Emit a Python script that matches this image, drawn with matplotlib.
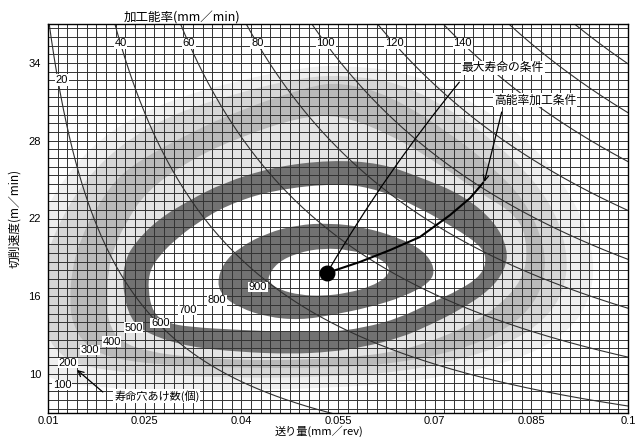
import numpy as np
import matplotlib
matplotlib.use("Agg")
import matplotlib.pyplot as plt
from matplotlib.patches import PathPatch
from matplotlib.path import Path

plt.rcParams['font.family'] = ['Noto Sans CJK JP', 'DejaVu Sans']

# tool life contours (holes drilled) as (feed mm/rev, speed m/min)
contour_100 = [(0.0057, 15.71), (0.0072, 19.57), (0.0095, 22.66), (0.0134, 25.74), (0.0196, 28.83),
               (0.0289, 31.14), (0.0398, 32.68), (0.0491, 33.61), (0.0553, 33.84), (0.0662, 33.30),
               (0.0770, 30.75), (0.0863, 27.28), (0.0926, 22.66), (0.0949, 18.80), (0.0941, 15.71),
               (0.0910, 13.40), (0.0848, 11.47), (0.0755, 10.16), (0.0646, 9.31), (0.0538, 8.93),
               (0.0398, 8.77), (0.0274, 8.77), (0.0165, 9.01), (0.0103, 9.54), (0.0072, 11.09),
               (0.0057, 13.40)]
contour_200 = [(0.0088, 15.71), (0.0095, 18.80), (0.0119, 21.88), (0.0157, 24.97), (0.0212, 27.67),
               (0.0289, 29.98), (0.0398, 31.76), (0.0491, 32.84), (0.0553, 33.07), (0.0646, 32.53),
               (0.0739, 29.98), (0.0817, 26.90), (0.0879, 23.43), (0.0907, 19.57), (0.0902, 16.49),
               (0.0871, 14.17), (0.0817, 12.40), (0.0739, 11.09), (0.0646, 10.16), (0.0538, 9.78),
               (0.0398, 9.70), (0.0274, 9.93), (0.0181, 10.32), (0.0126, 11.09), (0.0095, 13.02)]
contour_300 = [(0.0134, 15.71), (0.0137, 18.03), (0.0150, 20.34), (0.0173, 22.66), (0.0204, 24.97),
               (0.0243, 26.51), (0.0320, 28.59), (0.0398, 30.37), (0.0502, 32.14), (0.0553, 32.53),
               (0.0631, 31.52), (0.0728, 28.44), (0.0786, 26.13), (0.0840, 23.43), (0.0871, 19.96),
               (0.0871, 17.26), (0.0848, 14.94), (0.0801, 13.17), (0.0739, 11.86), (0.0646, 10.86),
               (0.0538, 10.47), (0.0398, 10.47), (0.0274, 10.70), (0.0196, 11.24), (0.0157, 12.24),
               (0.0137, 14.02)]
contour_400 = [(0.0192, 15.71), (0.0193, 17.87), (0.0202, 19.72), (0.0219, 21.50), (0.0251, 24.04),
               (0.0320, 26.51), (0.0398, 28.29), (0.0491, 29.83), (0.0553, 29.98), (0.0623, 28.67),
               (0.0693, 26.67), (0.0770, 23.97), (0.0832, 22.12), (0.0845, 19.57), (0.0836, 17.26),
               (0.0801, 15.33), (0.0755, 13.79), (0.0693, 12.48), (0.0631, 11.63), (0.0553, 11.24),
               (0.0476, 11.09), (0.0398, 11.09), (0.0320, 11.32), (0.0258, 11.70), (0.0212, 12.48),
               (0.0193, 14.02)]
contour_500 = [(0.0215, 16.87), (0.0219, 18.65), (0.0232, 19.96), (0.0269, 21.88), (0.0320, 23.43),
               (0.0372, 24.74), (0.0449, 25.97), (0.0538, 26.51), (0.0615, 26.28), (0.0677, 25.20),
               (0.0744, 23.81), (0.0794, 21.73), (0.0814, 19.57), (0.0809, 18.03), (0.0786, 16.49),
               (0.0739, 14.94), (0.0693, 13.79), (0.0646, 12.78), (0.0589, 12.09), (0.0538, 11.70),
               (0.0476, 11.55), (0.0398, 11.70), (0.0320, 12.09), (0.0258, 13.02), (0.0227, 14.17)]
contour_600 = [(0.0255, 16.49), (0.0258, 18.03), (0.0274, 19.19), (0.0297, 20.34), (0.0331, 21.65),
               (0.0378, 23.04), (0.0449, 24.20), (0.0553, 24.74), (0.0615, 24.20), (0.0677, 22.81),
               (0.0731, 21.27), (0.0770, 19.96), (0.0781, 18.95), (0.0773, 17.64), (0.0739, 16.49),
               (0.0693, 15.48), (0.0646, 14.33), (0.0589, 13.56), (0.0538, 13.25), (0.0476, 13.25),
               (0.0398, 13.40), (0.0320, 13.63), (0.0285, 13.94), (0.0263, 14.71)]
contour_800 = [(0.0362, 17.03), (0.0372, 18.57), (0.0398, 19.80), (0.0440, 20.88), (0.0486, 21.50),
               (0.0538, 21.65), (0.0589, 21.34), (0.0642, 20.57), (0.0682, 19.57), (0.0701, 18.18),
               (0.0693, 17.03), (0.0651, 15.95), (0.0600, 15.17), (0.0542, 14.56), (0.0491, 14.17),
               (0.0440, 14.40), (0.0398, 15.10), (0.0372, 15.95)]
contour_900 = [(0.0441, 17.49), (0.0455, 18.57), (0.0486, 19.34), (0.0527, 19.72), (0.0569, 19.57),
               (0.0611, 19.03), (0.0631, 18.26), (0.0626, 17.49), (0.0600, 16.72), (0.0564, 16.25),
               (0.0527, 16.02), (0.0491, 16.10), (0.0460, 16.49), (0.0444, 17.03)]

life_levels = [100, 200, 300, 400, 500, 600, 700, 800, 900]
rates = [20, 40, 60, 80, 100, 120, 140, 160, 180]   # mm/min
rate_labels = [20, 40, 60, 80, 100, 120, 140]
drill_dia = 6.0                                    # mm

best_life = (0.0533, 17.80)
efficient_path = [(0.0533, 17.80), (0.0584, 18.65), (0.0631, 19.57), (0.0677, 20.57),
                  (0.0724, 22.27), (0.0755, 23.58), (0.0775, 24.74)]

x_ticks = [0.01, 0.025, 0.04, 0.055, 0.07, 0.085, 0.1]
x_ticklabels = ['0.01', '0.025', '0.04', '0.055', '0.07', '0.085', '0.1']
y_ticks = [10, 16, 22, 28, 34]

dark = '#727272'
bands = [(contour_100, '#efefef'), (contour_200, '#d6d6d6'), (contour_300, '#bababa'),
         (contour_400, '#e4e4e4'), (contour_500, dark), (contour_600, 'white'),
         (contour_800, dark), (contour_900, 'white')]


def smooth_outline(pts):
    # closed outline drawn as quadratic curves through the read points' midpoints
    p = np.asarray(pts)
    mids = (p + np.roll(p, -1, axis=0)) / 2
    verts = [mids[-1]]
    codes = [Path.MOVETO]
    for i in range(len(p)):
        verts += [p[i], mids[i]]
        codes += [Path.CURVE3, Path.CURVE3]
    return Path(verts, codes)


fig = plt.figure(figsize=(6.35, 4.38), dpi=100)
ax = fig.add_axes([48/635, 25/438, 580/635, 389/438])
ax.set_xlim(0.01, 0.1)
ax.set_ylim(7, 37)

for pts, col in bands:
    ax.add_patch(PathPatch(smooth_outline(pts), facecolor=col, edgecolor='none', zorder=1))

# graph paper grid
ax.set_xticks(np.arange(0.01, 0.1001, 0.0015), minor=True)
ax.set_yticks(np.arange(10 - 2/3*4, 37.01, 2/3), minor=True)
ax.set_xticks(x_ticks)
ax.set_xticklabels(x_ticklabels)
ax.set_yticks(y_ticks)
ax.grid(which='both', color='#333333', linewidth=0.7, zorder=2)
ax.set_axisbelow(False)
ax.tick_params(which='both', length=0)
ax.tick_params(axis='x', pad=2)
ax.tick_params(axis='y', pad=5)
for lab in ax.get_xticklabels() + ax.get_yticklabels():
    lab.set_fontfamily('Liberation Sans')
    lab.set_fontsize(8)
for s in ax.spines.values():
    s.set_linewidth(1.0)
    s.set_zorder(6)

# lines of equal machining rate: rate = f * 1000 v / (pi D)
ff = np.linspace(0.005, 0.1, 400)
for r in rates:
    ax.plot(ff, r * np.pi * drill_dia / 1000 / ff, color='#303030', lw=0.8, zorder=3)
box = dict(facecolor='white', edgecolor='none', pad=0.6)
for r in rate_labels:
    v_lab = 32.7 if r == 20 else 35.5
    f_lab = r * np.pi * drill_dia / 1000 / v_lab
    ax.text(f_lab + (0.0006 if r == 20 else 0), v_lab, str(r), ha='center', va='center',
            fontsize=8, family='Liberation Sans', bbox=box, zorder=7)

# life level labels
label_pos = [(0.0122, 9.16), (0.0131, 10.86), (0.0165, 11.86), (0.0199, 12.48), (0.0233, 13.56),
             (0.0274, 13.94), (0.0316, 14.94), (0.0362, 15.71), (0.0426, 16.72)]
for lv, (fx, vy) in zip(life_levels, label_pos):
    ax.text(fx, vy, str(lv), ha='center', va='center', fontsize=8, family='Liberation Sans',
            bbox=dict(facecolor='white', edgecolor='none', pad=0.3), zorder=7)

# best life point and high-efficiency path
pf, pv = zip(*efficient_path)
ax.plot(pf, pv, color='black', lw=1.5, zorder=8)
ax.scatter([best_life[0]], [best_life[1]], s=110, color='black', zorder=9)

ax.text(0.0806, 33.61, '最大寿命の条件', ha='center', va='center', fontsize=8.5,
        bbox=box, zorder=7)
ax.annotate('', xy=best_life, xytext=(0.0741, 32.68),
            arrowprops=dict(arrowstyle='-', lw=0.9, color='black',
                            connectionstyle='arc3,rad=0.04'), zorder=8)
ax.text(0.0856, 31.14, '高能率加工条件', ha='center', va='center', fontsize=8.5,
        bbox=box, zorder=7)
ax.annotate('', xy=(0.0777, 24.81), xytext=(0.0804, 30.21),
            arrowprops=dict(arrowstyle='->', lw=0.9, color='black',
                            shrinkA=0, shrinkB=0), zorder=8)
ax.text(0.0269, 8.31, '寿命穴あけ数(個)', ha='center', va='center', fontsize=8,
        bbox=box, zorder=7)
ax.annotate('', xy=(0.0145, 10.32), xytext=(0.0185, 8.62),
            arrowprops=dict(arrowstyle='->', lw=0.9, color='black',
                            shrinkA=0, shrinkB=0), zorder=8)

fig.text(182/635, 1 - 18/438, '加工能率(mm／min)', ha='center', va='center', fontsize=9)
fig.text(319/635, 1 - 431.5/438, '送り量(mm／rev)', ha='center', va='center', fontsize=8)
fig.text(15/635, 1 - 218/438, '切削速度(m／min)', ha='center', va='center', fontsize=8.5,
         rotation=90)

fig.savefig('out.png', dpi=100)
